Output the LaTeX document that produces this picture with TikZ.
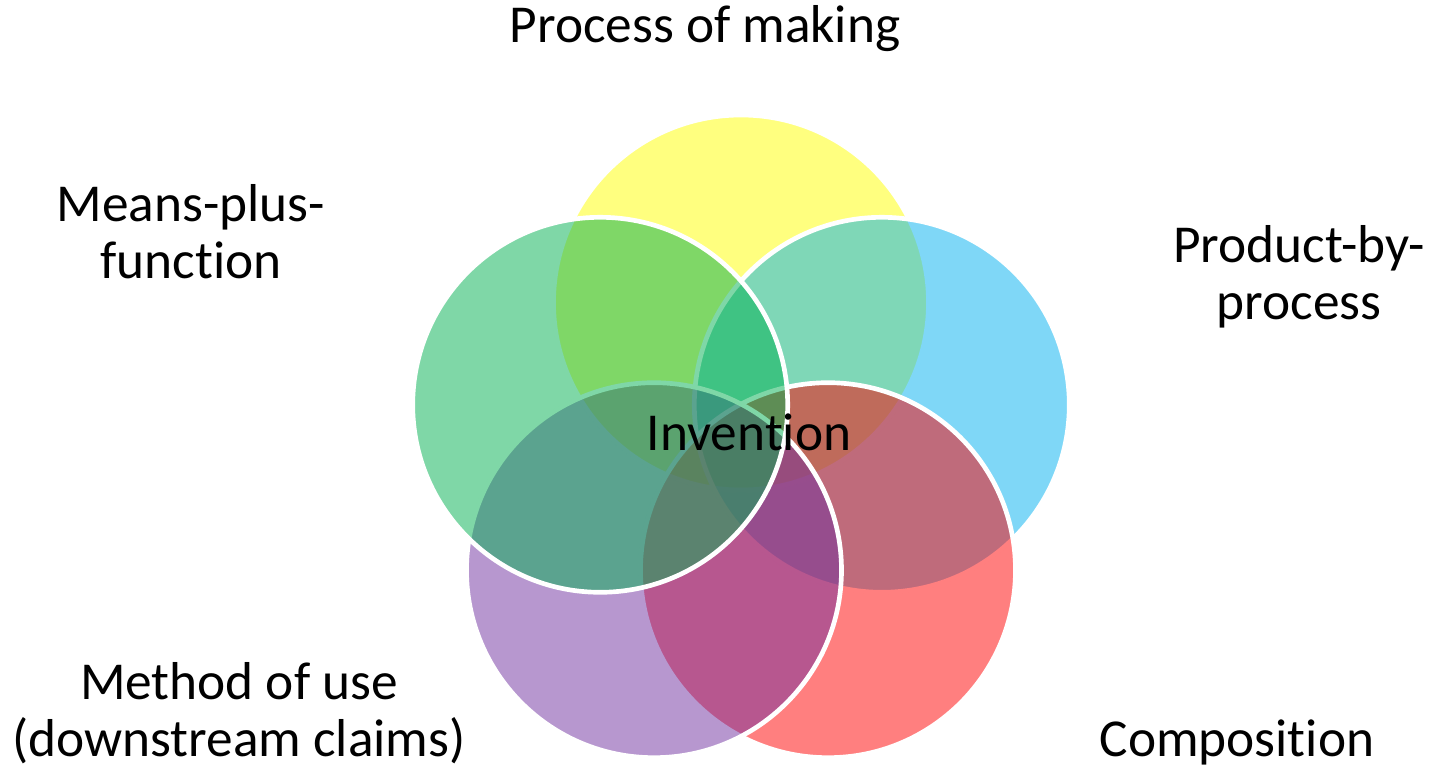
\documentclass[tikz,border=0pt]{standalone}
\usepackage{fontspec}
\setmainfont{Carlito}[Ligatures={NoCommon,NoDiscretionary}]
\definecolor{cyellow}{HTML}{FFFF00}
\definecolor{cblue}{HTML}{00B0F0}
\definecolor{cred}{HTML}{FF0000}
\definecolor{cpurple}{HTML}{7030A0}
\definecolor{cgreen}{HTML}{00B050}
\begin{document}
\begin{tikzpicture}[x=0.75pt,y=-0.75pt,
  venn/.style={fill opacity=0.5, draw=white, draw opacity=1, line width=3.5pt},
  lbl/.style={font=\fontsize{40pt}{43pt}\selectfont, text=black, inner sep=0pt, align=center}]
\useasboundingbox (0,0) rectangle (1429,770);
% centres of the five circles (pentagon around (741,450.5))
\coordinate (cy) at (741,302.5);
\coordinate (cb) at (881.8,404.8);
\coordinate (cr) at (828,570.2);
\coordinate (cp) at (654,570.2);
\coordinate (cg) at (600.2,404.8);
\path[venn, fill=cyellow] (cy) circle[radius=187.5];
\path[venn, fill=cblue] (cb) circle[radius=187.5];
\path[venn, fill=cred] (cr) circle[radius=187.5];
\path[venn, fill=cpurple] (cp) circle[radius=187.5];
\path[venn, fill=cgreen] (cg) circle[radius=187.5];
\node[lbl, anchor=base] (inv) at (749,450) {Invention};
\node[lbl, anchor=base] (pom) at (705,43) {Process of making};
\node[lbl] (mpf) at (191,232) {Means-plus-\\function};
\node[lbl] (pbp) at (1299,277) {Product-by-\\process};
\node[lbl] (mou) at (239,713) {Method of use\\(downstream claims)};
\node[lbl, anchor=base] (com) at (1237,756) {Composition};
\end{tikzpicture}
\end{document}
